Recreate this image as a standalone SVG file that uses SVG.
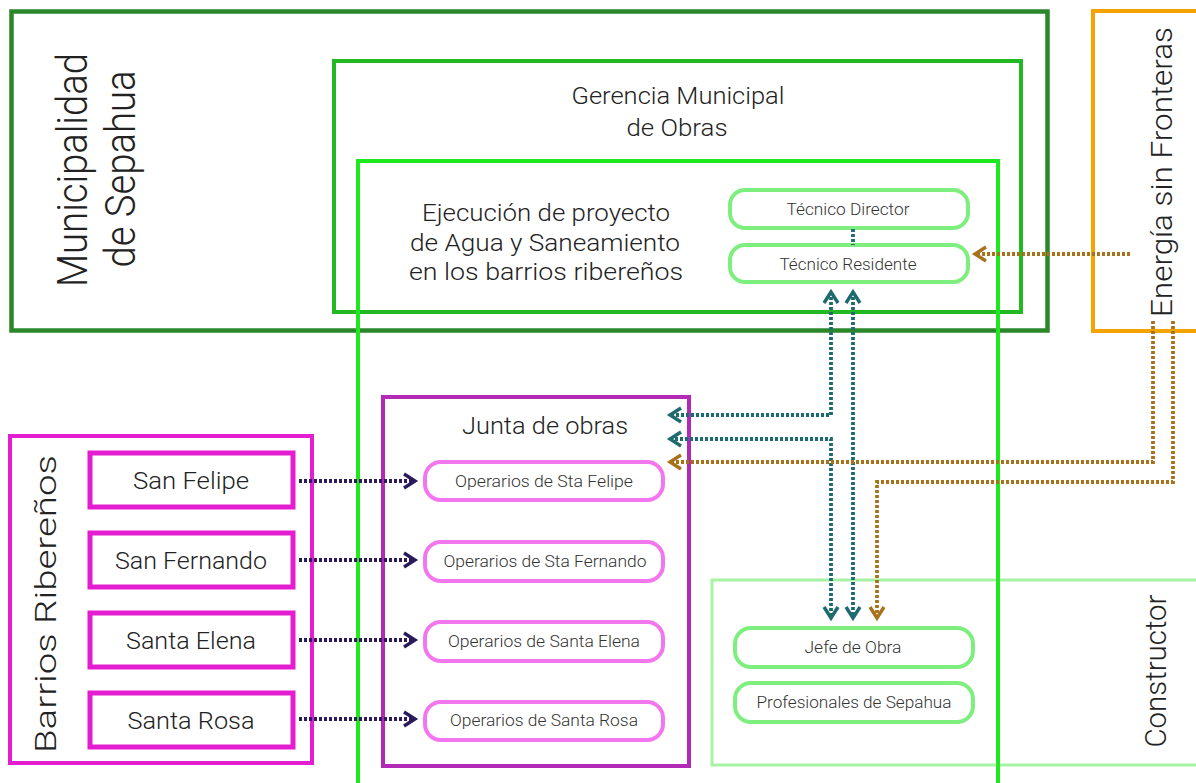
<svg xmlns="http://www.w3.org/2000/svg" width="1196" height="783" viewBox="0 0 1196 783">
<style>
text{font-family:Roboto,"Liberation Sans",Arial,sans-serif;font-weight:300;fill:#222;text-anchor:middle}
.big{font-size:43px}
.t29{font-size:30px}
.t24{font-size:24px}
.t16{font-size:16px;fill:#333}
.box{fill:none}
.node{fill:#fff}
.c{fill:none;stroke-width:3.8;stroke-dasharray:3 2}
.teal{stroke:#1d6b6e}
.brown{stroke:#a8721c}
.navy{stroke:#2c1b5c}
</style>
<defs>
<marker id="aTeal" markerUnits="userSpaceOnUse" markerWidth="18" markerHeight="18" viewBox="0 0 18 18" refX="14" refY="9" orient="auto-start-reverse"><path d="M3,2 L14,9 L3,16" fill="none" stroke="#1d6b6e" stroke-width="3.4"/></marker>
<marker id="aBrown" markerUnits="userSpaceOnUse" markerWidth="18" markerHeight="18" viewBox="0 0 18 18" refX="14" refY="9" orient="auto-start-reverse"><path d="M3,2 L14,9 L3,16" fill="none" stroke="#a8721c" stroke-width="3.4"/></marker>
<marker id="aNavy" markerUnits="userSpaceOnUse" markerWidth="18" markerHeight="18" viewBox="0 0 18 18" refX="14" refY="9" orient="auto-start-reverse"><path d="M3,2 L14,9 L3,16" fill="none" stroke="#2c1b5c" stroke-width="3.4"/></marker>
</defs>
<rect width="1196" height="783" fill="#fff"/>

<g id="municipalidad">
<rect class="box" x="11.5" y="11.5" width="1036" height="319" stroke="#2a872a" stroke-width="4.5"/>
<text class="big" transform="translate(87,170) rotate(-90)" textLength="234" lengthAdjust="spacingAndGlyphs">Municipalidad</text>
<text class="big" transform="translate(135,169) rotate(-90)" textLength="197" lengthAdjust="spacingAndGlyphs">de Sepahua</text>
</g>

<g id="gerencia">
<rect class="box" x="334" y="61" width="687" height="251" stroke="#22b922" stroke-width="4"/>
<text class="t24" x="678" y="104" textLength="213" lengthAdjust="spacingAndGlyphs">Gerencia Municipal</text>
<text class="t24" x="677" y="136" textLength="101" lengthAdjust="spacingAndGlyphs">de Obras</text>
</g>

<g id="energia">
<rect class="box" x="1093" y="11" width="120" height="320" stroke="#f5a300" stroke-width="4"/>
<text class="t29" transform="translate(1172,172) rotate(-90)" textLength="290" lengthAdjust="spacingAndGlyphs">Energía sin Fronteras</text>
</g>

<g id="constructor">
<rect class="box" x="712" y="580" width="490" height="185" stroke="#a6f3a6" stroke-width="3"/>
<text class="t29" transform="translate(1166,671) rotate(-90)" textLength="153" lengthAdjust="spacingAndGlyphs">Constructor</text>
</g>

<g id="barrios">
<rect class="box" x="10" y="436" width="302" height="327" stroke="#e41ed0" stroke-width="4"/>
<text class="t29" transform="translate(56,604) rotate(-90)" textLength="298" lengthAdjust="spacingAndGlyphs">Barrios Ribereños</text>
</g>
<g id="san-felipe">
<rect class="box" x="90" y="453" width="203" height="54" stroke="#e41ed0" stroke-width="5"/>
<text class="t24" x="191" y="489" textLength="116" lengthAdjust="spacingAndGlyphs">San Felipe</text>
</g>
<g id="san-fernando">
<rect class="box" x="90" y="533" width="203" height="54" stroke="#e41ed0" stroke-width="5"/>
<text class="t24" x="191" y="569" textLength="152" lengthAdjust="spacingAndGlyphs">San Fernando</text>
</g>
<g id="santa-elena">
<rect class="box" x="90" y="613" width="203" height="54" stroke="#e41ed0" stroke-width="5"/>
<text class="t24" x="191" y="649" textLength="130" lengthAdjust="spacingAndGlyphs">Santa Elena</text>
</g>
<g id="santa-rosa">
<rect class="box" x="90" y="693" width="203" height="54" stroke="#e41ed0" stroke-width="5"/>
<text class="t24" x="191" y="729" textLength="127" lengthAdjust="spacingAndGlyphs">Santa Rosa</text>
</g>

<g id="junta">
<rect class="box" x="383" y="397" width="306" height="369" stroke="#b22ab6" stroke-width="4"/>
<text class="t24" x="545" y="434" textLength="166" lengthAdjust="spacingAndGlyphs">Junta de obras</text>
</g>
<g id="op-felipe">
<rect class="node" x="425" y="462" width="238" height="38" rx="16" stroke="#f277ee" stroke-width="4"/>
<text class="t16" x="544" y="487" textLength="178" lengthAdjust="spacingAndGlyphs">Operarios de Sta Felipe</text>
</g>
<g id="op-fernando">
<rect class="node" x="425" y="542" width="238" height="39" rx="16" stroke="#f277ee" stroke-width="4"/>
<text class="t16" x="545" y="567" textLength="203" lengthAdjust="spacingAndGlyphs">Operarios de Sta Fernando</text>
</g>
<g id="op-elena">
<rect class="node" x="425" y="622" width="238" height="39" rx="16" stroke="#f277ee" stroke-width="4"/>
<text class="t16" x="544" y="647" textLength="192" lengthAdjust="spacingAndGlyphs">Operarios de Santa Elena</text>
</g>
<g id="op-rosa">
<rect class="node" x="425" y="702" width="238" height="38" rx="16" stroke="#f277ee" stroke-width="4"/>
<text class="t16" x="544" y="726" textLength="188" lengthAdjust="spacingAndGlyphs">Operarios de Santa Rosa</text>
</g>

<g id="ejecucion">
<rect class="box" x="358" y="161" width="640" height="660" stroke="#1ee81e" stroke-width="4"/>
<text class="t24" x="546" y="221" textLength="248" lengthAdjust="spacingAndGlyphs">Ejecución de proyecto</text>
<text class="t24" x="545" y="251" textLength="270" lengthAdjust="spacingAndGlyphs">de Agua y Saneamiento</text>
<text class="t24" x="546" y="280" textLength="274" lengthAdjust="spacingAndGlyphs">en los barrios ribereños</text>
</g>

<g id="tecnico-director">
<rect class="node" x="730" y="190" width="238" height="38" rx="15" stroke="#7eee7e" stroke-width="4"/>
<text class="t16" x="848" y="215" textLength="123" lengthAdjust="spacingAndGlyphs">Técnico Director</text>
</g>
<g id="tecnico-residente">
<rect class="node" x="730" y="245" width="238" height="37" rx="15" stroke="#7eee7e" stroke-width="4"/>
<text class="t16" x="848" y="270" textLength="137" lengthAdjust="spacingAndGlyphs">Técnico Residente</text>
</g>
<g id="jefe-obra">
<rect class="node" x="735" y="628" width="238" height="39" rx="16" stroke="#7eee7e" stroke-width="4"/>
<text class="t16" x="853" y="653" textLength="97" lengthAdjust="spacingAndGlyphs">Jefe de Obra</text>
</g>
<g id="profesionales">
<rect class="node" x="735" y="683" width="238" height="39" rx="16" stroke="#7eee7e" stroke-width="4"/>
<text class="t16" x="854" y="708" textLength="195" lengthAdjust="spacingAndGlyphs">Profesionales de Sepahua</text>
</g>

<g id="connectors">
<path class="c navy" d="M299,481 H415" marker-end="url(#aNavy)"/>
<path class="c navy" d="M299,560 H415" marker-end="url(#aNavy)"/>
<path class="c navy" d="M299,640 H415" marker-end="url(#aNavy)"/>
<path class="c navy" d="M299,719 H415" marker-end="url(#aNavy)"/>
<path class="c teal" d="M853,229 V245"/>
<path class="c teal" d="M831,292 V415 H670" marker-start="url(#aTeal)" marker-end="url(#aTeal)"/>
<path class="c teal" d="M670,439 H831 V618" marker-start="url(#aTeal)" marker-end="url(#aTeal)"/>
<path class="c teal" d="M853,292 V618" marker-start="url(#aTeal)" marker-end="url(#aTeal)"/>
<path class="c brown" d="M1130,254 H975" marker-end="url(#aBrown)"/>
<path class="c brown" d="M1153,321 V462 H670" marker-end="url(#aBrown)"/>
<path class="c brown" d="M1173,321 V482 H877 V618" marker-end="url(#aBrown)"/>
</g>
</svg>
